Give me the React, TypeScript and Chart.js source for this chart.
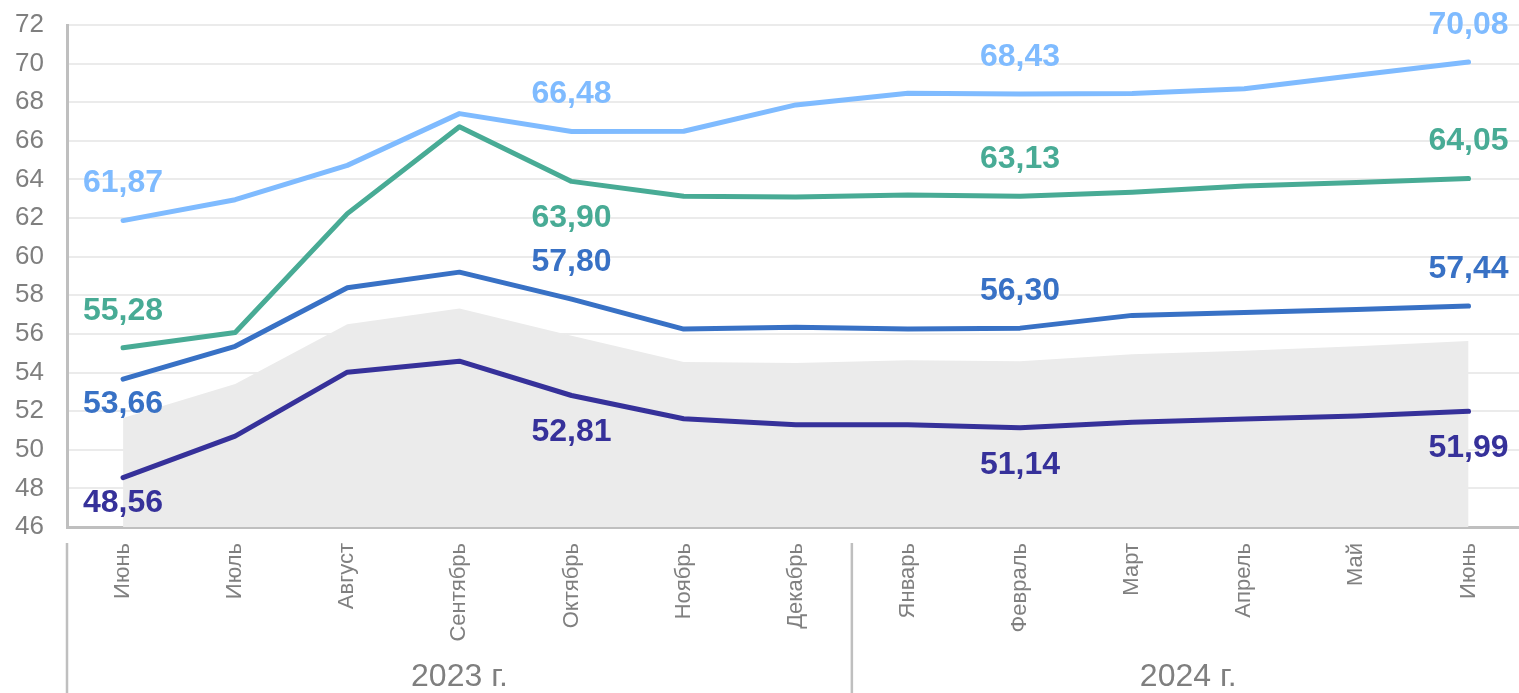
import React, { useEffect, useRef } from "react";
import { Chart, registerables } from "chart.js";

Chart.register(...registerables);

const months = ["Июнь", "Июль", "Август", "Сентябрь", "Октябрь", "Ноябрь", "Декабрь", "Январь", "Февраль", "Март", "Апрель", "Май", "Июнь"];
const yearLabels = ["2023 г.", "2024 г."];
const yearFirstIndex = [0, 7];
const yearLastIndex = [6, 12];

const seriesLightBlue = [61.87, 62.95, 64.73, 67.41, 66.48, 66.5, 67.86, 68.47, 68.43, 68.45, 68.7, 69.4, 70.08];
const seriesGreen = [55.28, 56.07, 62.23, 66.73, 63.9, 63.13, 63.09, 63.2, 63.13, 63.34, 63.66, 63.84, 64.05];
const seriesBlue = [53.66, 55.36, 58.39, 59.2, 57.8, 56.25, 56.34, 56.25, 56.3, 56.96, 57.11, 57.27, 57.44];
const seriesNavy = [48.56, 50.71, 54.02, 54.59, 52.81, 51.61, 51.3, 51.3, 51.14, 51.43, 51.6, 51.75, 51.99];
const seriesGrayArea = [51.65, 53.4, 56.5, 57.32, 55.9, 54.55, 54.5, 54.64, 54.59, 54.95, 55.13, 55.36, 55.63];

const yTicks = [46, 48, 50, 52, 54, 56, 58, 60, 62, 64, 66, 68, 70, 72];
const labelledIndices = [0, 4, 8, 12];

const FONT = "'Liberation Sans', Arial, sans-serif";

// label placement: dataset index -> per labelled point [direction, offset]
const labelPlacement: Record<number, [number, number][]> = {
  1: [[-1, 37], [-1, 37], [-1, 37], [-1, 37]],
  2: [[-1, 37], [1, 37], [-1, 37], [-1, 37]],
  3: [[1, 25], [-1, 37], [-1, 37], [-1, 37]],
  4: [[1, 26], [1, 37], [1, 37], [1, 37]],
};

const toPts = (arr: number[]) => arr.map((v, i) => ({ x: i, y: v }));

const lineStyle = (color: string) => ({
  borderColor: color,
  borderWidth: 5,
  pointRadius: 0,
  borderCapStyle: "round",
  borderJoinStyle: "round",
  fill: false,
  tension: 0,
  order: 1,
});

const zeroPadding = (axis: any) => {
  axis.paddingTop = 0;
  axis.paddingBottom = 0;
  axis.paddingLeft = 0;
  axis.paddingRight = 0;
};

export default function App() {
  const ref = useRef<HTMLCanvasElement | null>(null);

  useEffect(() => {
    if (!ref.current) return;
    const labelsPlugin = {
      id: "valueLabels",
      afterDatasetsDraw(chart: any) {
        const ctx = chart.ctx;
        ctx.save();
        ctx.font = `bold 32px ${FONT}`;
        ctx.textAlign = "center";
        ctx.textBaseline = "middle";
        Object.keys(labelPlacement).forEach((k) => {
          const di = Number(k);
          const ds = chart.data.datasets[di];
          const meta = chart.getDatasetMeta(di);
          labelledIndices.forEach((pi, j) => {
            const el = meta.data[pi];
            const [dir, off] = labelPlacement[di][j];
            const v = (ds.data[pi] as any).y as number;
            ctx.fillStyle = ds.borderColor;
            ctx.fillText(v.toFixed(2).replace(".", ","), el.x, el.y + dir * off);
          });
        });
        ctx.restore();
      },
      afterDraw(chart: any) {
        const ctx = chart.ctx;
        const xs = chart.scales.x;
        const area = chart.chartArea;
        ctx.save();
        ctx.strokeStyle = "#bfbfbf";
        ctx.lineWidth = 2.5;
        const sepTop = area.bottom + 16;
        const sepBottom = chart.height;
        const sepXs = [area.left, (xs.getPixelForValue(6) + xs.getPixelForValue(7)) / 2];
        sepXs.forEach((x) => {
          ctx.beginPath();
          ctx.moveTo(x, sepTop);
          ctx.lineTo(x, sepBottom);
          ctx.stroke();
        });
        ctx.fillStyle = "#7f7f7f";
        ctx.font = `32px ${FONT}`;
        ctx.textAlign = "center";
        ctx.textBaseline = "middle";
        yearLabels.forEach((t, i) => {
          const x = (xs.getPixelForValue(yearFirstIndex[i]) + xs.getPixelForValue(yearLastIndex[i])) / 2;
          ctx.fillText(t, x, 677);
        });
        ctx.restore();
      },
    };

    const chart = new Chart(ref.current, {
      type: "line",
      data: {
        datasets: [
          {
            label: "area",
            data: toPts(seriesGrayArea),
            borderWidth: 0,
            borderColor: "rgba(0,0,0,0)",
            backgroundColor: "#ebebeb",
            fill: "start",
            pointRadius: 0,
            tension: 0,
            order: 10,
          },
          { label: "lightBlue", data: toPts(seriesLightBlue), ...lineStyle("#7fbbff") },
          { label: "green", data: toPts(seriesGreen), ...lineStyle("#48ab95") },
          { label: "blue", data: toPts(seriesBlue), ...lineStyle("#3871c5") },
          { label: "navy", data: toPts(seriesNavy), ...lineStyle("#36319a") },
        ],
      },
      options: {
        responsive: false,
        animation: false,
        layout: { padding: { top: 25, left: 0, right: 0, bottom: 0 } },
        plugins: { legend: { display: false }, tooltip: { enabled: false } },
        scales: {
          x: {
            type: "linear",
            min: -0.5,
            max: 12.45,
            afterBuildTicks: (axis: any) => {
              axis.ticks = months.map((_, i) => ({ value: i }));
            },
            afterFit: (axis: any) => {
              axis.height = 166;
              zeroPadding(axis);
            },
            grid: { display: false, drawTicks: false },
            border: { display: true, color: "#bfbfbf", width: 3 },
            ticks: {
              autoSkip: false,
              minRotation: 90,
              maxRotation: 90,
              padding: 16,
              color: "#808080",
              font: { family: FONT, size: 22 },
              callback: (v: any) => months[Number(v)] ?? "",
            },
          },
          y: {
            min: 46,
            max: 72,
            afterBuildTicks: (axis: any) => {
              axis.ticks = yTicks.map((v) => ({ value: v }));
            },
            afterFit: (axis: any) => {
              axis.width = 67;
              zeroPadding(axis);
            },
            grid: { color: "#ebebeb", lineWidth: 2, drawTicks: false },
            border: { display: true, color: "#bfbfbf", width: 3 },
            ticks: {
              padding: 23,
              color: "#7f7f7f",
              font: { family: FONT, size: 26 },
              callback: (v: any) => String(v),
            },
          },
        },
      },
      plugins: [labelsPlugin],
    } as any);
    return () => chart.destroy();
  }, []);

  return (
    <div style={{ position: "fixed", left: 0, top: 0, width: 1519, height: 693, background: "#fff" }}>
      <canvas ref={ref} width={1519} height={693} style={{ width: 1519, height: 693, display: "block" }} />
    </div>
  );
}
